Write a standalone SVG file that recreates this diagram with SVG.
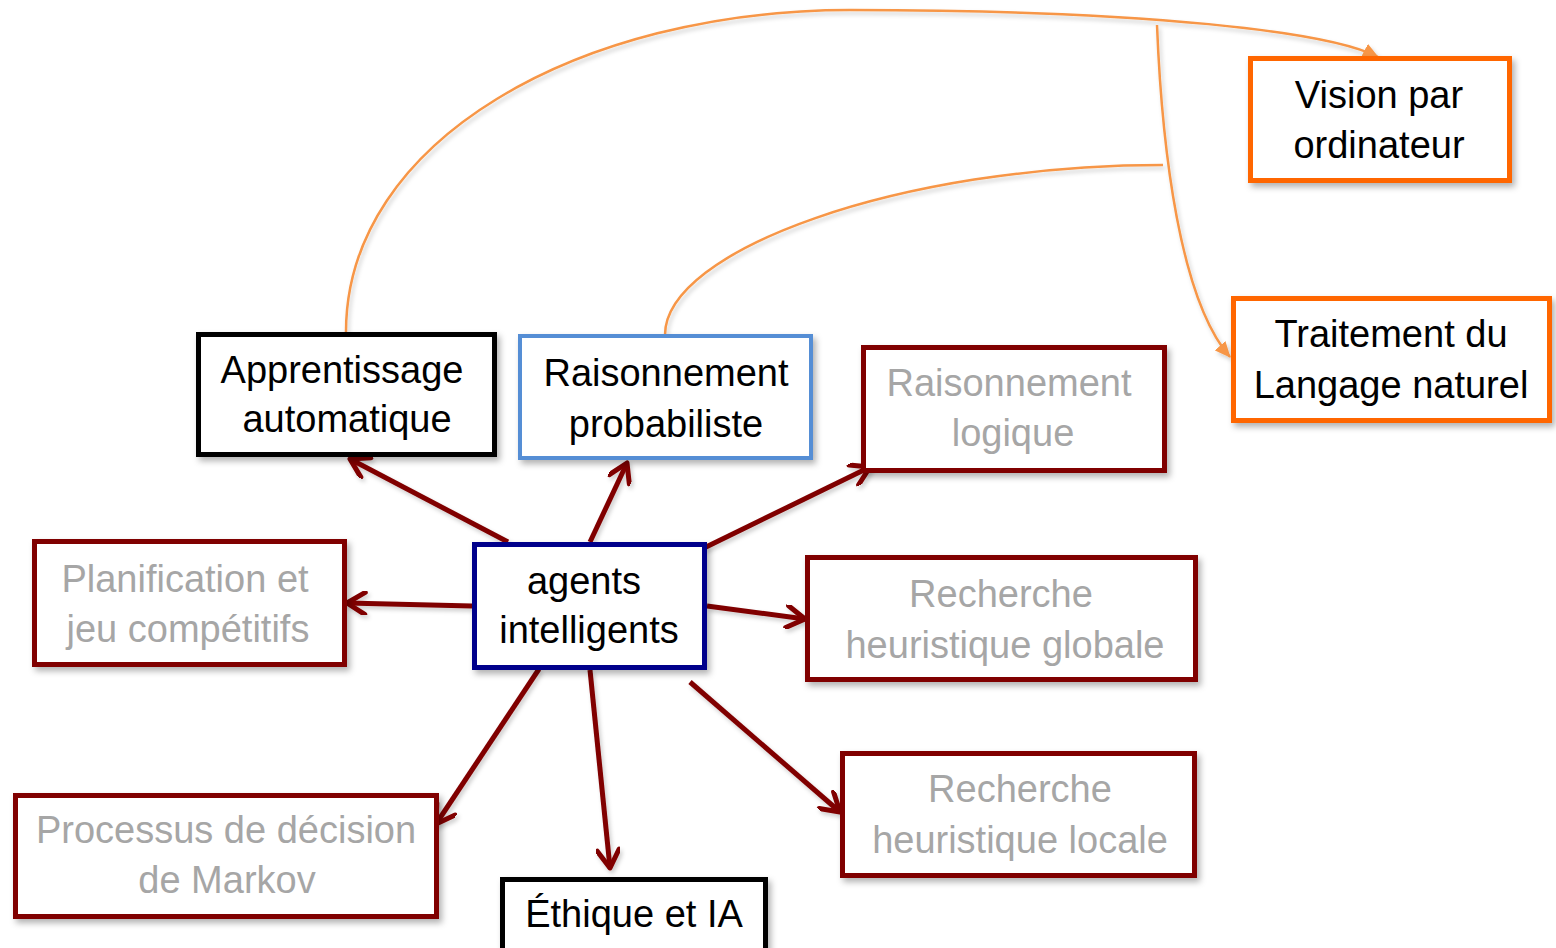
<svg xmlns="http://www.w3.org/2000/svg" width="1556" height="948" viewBox="0 0 1556 948">
<defs>
<filter id="sh" x="-10%" y="-10%" width="130%" height="140%">
<feDropShadow dx="3" dy="4" stdDeviation="3" flood-color="#000" flood-opacity="0.3"/>
</filter>
<filter id="lsh" x="-10%" y="-10%" width="130%" height="130%">
<feDropShadow dx="2" dy="3" stdDeviation="2" flood-color="#000" flood-opacity="0.2"/>
</filter>
<marker id="vr" markerUnits="userSpaceOnUse" viewBox="0 0 24 24" refX="21" refY="12" markerWidth="24" markerHeight="24" orient="auto">
<path d="M3,1 L21,12 L3,23" fill="none" stroke="#800000" stroke-width="5" stroke-linecap="round" stroke-linejoin="round"/>
</marker>
<marker id="ot" markerUnits="userSpaceOnUse" viewBox="0 0 16 14" refX="15" refY="7" markerWidth="16" markerHeight="14" orient="auto">
<path d="M0,0 L16,7 L0,14 Z" fill="#F79646"/>
</marker>
</defs>
<style>
.box{fill:#fff;filter:url(#sh)}
.red{stroke:#800000;stroke-width:5}
.org{stroke:#FF6600;stroke-width:5}
.t{font-family:"Liberation Sans",Arial,sans-serif;font-size:38px;text-anchor:middle}
.k{fill:#000}
.g{fill:#A6A6A6}
.rc{stroke:#800000;stroke-width:5;fill:none;marker-end:url(#vr)}
.oc{stroke:#F79646;stroke-width:2.5;fill:none}
</style>
<rect width="1556" height="948" fill="#fff"/>

<g id="connectors">
<g filter="url(#lsh)">
<path class="oc" d="M346,332 C346,140 580,10 850,10 C1150,10 1330,32 1378,57" marker-end="url(#ot)"/>
<path class="oc" d="M1157,25 C1162,150 1180,300 1230,357" marker-end="url(#ot)"/>
<path class="oc" d="M665,335 C665,250 900,165 1163,165"/>
</g>
<g filter="url(#lsh)">
<line class="rc" x1="508" y1="542" x2="350" y2="459"/>
<line class="rc" x1="590" y1="542" x2="627" y2="463"/>
<line class="rc" x1="704" y1="548" x2="870" y2="467"/>
<line class="rc" x1="472" y1="606" x2="347" y2="603"/>
<line class="rc" x1="707" y1="606" x2="805" y2="619"/>
<line class="rc" x1="539" y1="669" x2="436" y2="824"/>
<line class="rc" x1="590" y1="670" x2="610" y2="868"/>
<line class="rc" x1="690" y1="682" x2="840" y2="812"/>
</g>
</g>

<g id="vision">
<rect class="box org" x="1250.5" y="58.5" width="259" height="122"/>
<text class="t k" x="1379" y="108">Vision par</text>
<text class="t k" x="1379" y="158">ordinateur</text>
</g>
<g id="traitement">
<rect class="box org" x="1233.5" y="298.5" width="316" height="122"/>
<text class="t k" x="1391" y="347">Traitement du</text>
<text class="t k" x="1391" y="398">Langage naturel</text>
</g>
<g id="apprentissage">
<rect class="box" x="198.5" y="334.5" width="296" height="120" stroke="#000" stroke-width="5"/>
<text class="t k" x="342" y="383">Apprentissage</text>
<text class="t k" x="347" y="432">automatique</text>
</g>
<g id="raisonnement-probabiliste">
<rect class="box" x="520" y="336" width="291" height="122" stroke="#558ED5" stroke-width="4"/>
<text class="t k" x="666" y="386">Raisonnement</text>
<text class="t k" x="666" y="437">probabiliste</text>
</g>
<g id="raisonnement-logique">
<rect class="box red" x="863.5" y="347.5" width="301" height="123"/>
<text class="t g" x="1009" y="396">Raisonnement</text>
<text class="t g" x="1013" y="446">logique</text>
</g>
<g id="planification">
<rect class="box red" x="34.5" y="541.5" width="310" height="123"/>
<text class="t g" x="185" y="592">Planification et</text>
<text class="t g" x="188" y="642">jeu compétitifs</text>
</g>
<g id="agents">
<rect class="box" x="474.5" y="544.5" width="230" height="123" stroke="#00008B" stroke-width="5"/>
<text class="t k" x="584" y="594">agents</text>
<text class="t k" x="589" y="643">intelligents</text>
</g>
<g id="recherche-globale">
<rect class="box red" x="807.5" y="557.5" width="388" height="122"/>
<text class="t g" x="1001" y="607">Recherche</text>
<text class="t g" x="1005" y="658">heuristique globale</text>
</g>
<g id="recherche-locale">
<rect class="box red" x="842.5" y="753.5" width="352" height="122"/>
<text class="t g" x="1020" y="802">Recherche</text>
<text class="t g" x="1020" y="853">heuristique locale</text>
</g>
<g id="processus">
<rect class="box red" x="15.5" y="795.5" width="421" height="121"/>
<text class="t g" x="226" y="843">Processus de décision</text>
<text class="t g" x="227" y="893">de Markov</text>
</g>
<g id="ethique">
<rect class="box" x="502.5" y="879.5" width="263" height="100" stroke="#000" stroke-width="5"/>
<text class="t k" x="634" y="927">Éthique et IA</text>
</g>
</svg>
